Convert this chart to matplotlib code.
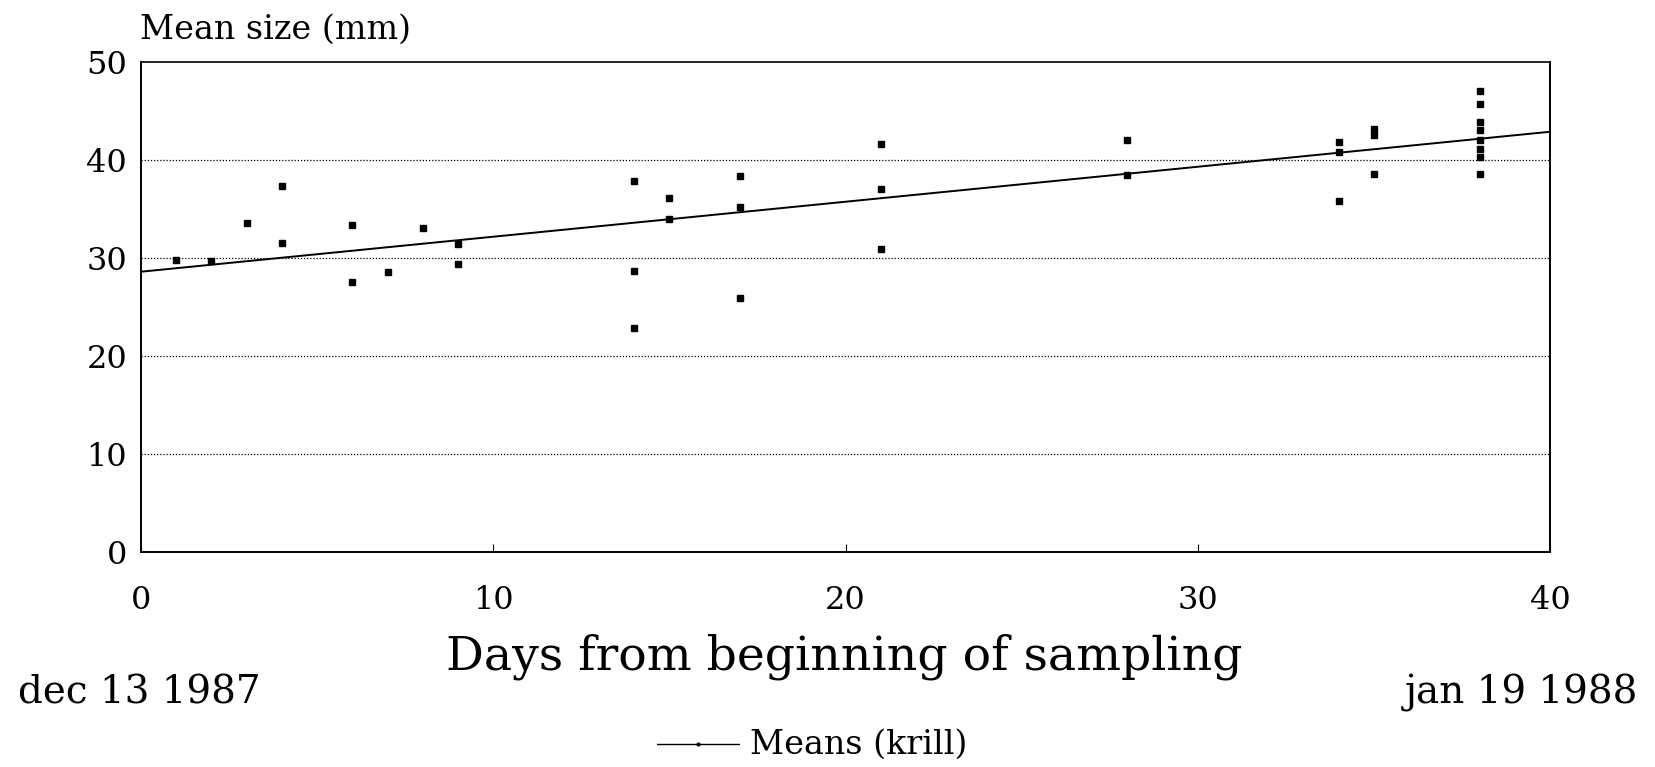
import numpy as np
import matplotlib
matplotlib.use("Agg")
import matplotlib.pyplot as plt

# Krill mean size per sampling day
days = [1, 2, 3, 4, 4, 6, 6, 7, 8, 9, 9,
        14, 14, 14, 15, 15, 17, 17, 17, 21, 21, 21,
        28, 28, 34, 34, 34, 35, 35, 35,
        38, 38, 38, 38, 38, 38, 38, 38]
mean_size = [29.8, 29.7, 33.6, 37.3, 31.5, 33.4, 27.6, 28.6, 33.1, 31.4, 29.4,
             37.9, 28.7, 22.9, 36.1, 34.0, 38.4, 35.2, 25.9, 41.6, 37.0, 30.9,
             42.0, 38.5, 41.8, 40.8, 35.8, 43.2, 42.5, 38.6,
             47.0, 45.7, 43.9, 43.1, 42.0, 41.1, 40.3, 38.6]

# fitted trend line as drawn in the figure
fit_intercept = 28.6
fit_slope = 0.357

x_ticks = [0, 10, 20, 30, 40]
y_ticks = [0, 10, 20, 30, 40, 50]

plt.rcParams["font.family"] = ["DejaVu Serif"]

fig = plt.figure(figsize=(16.55, 7.67), dpi=100)
ax = fig.add_axes([0.0852, 0.2803, 0.8514, 0.6389])

for v in y_ticks[1:-1]:
    ax.axhline(v, color="black", lw=0.9, ls=(0, (1, 1.5)), zorder=1)

ax.plot(days, mean_size, ls="none", marker="s", ms=3.8, color="black", zorder=3)

xfit = np.array([0, 40])
ax.plot(xfit, fit_intercept + fit_slope * xfit, color="black", lw=1.4, zorder=2)

ax.set_xlim(0, 40)
ax.set_ylim(0, 50)
ax.set_xticks(x_ticks)
ax.set_yticks(y_ticks)
ax.tick_params(axis="x", direction="in", length=6, width=0.8, labelsize=23, pad=24)
ax.tick_params(axis="y", length=0, labelsize=23, pad=10)
for s in ["left", "bottom", "right"]:
    ax.spines[s].set_linewidth(1.4)
ax.spines["top"].set_linestyle((0, (2, 1)))
ax.spines["top"].set_linewidth(1.2)

fig.text(0.0846, 0.961, "Mean size (mm)", fontsize=24, ha="left", va="center")
fig.text(0.51, 0.144, "Days from beginning of sampling", fontsize=34, ha="center", va="center")
fig.text(0.011, 0.096, "dec 13 1987", fontsize=28, ha="left", va="center")
fig.text(0.990, 0.096, "jan 19 1988", fontsize=28, ha="right", va="center")

# legend-like key at the bottom
key = fig.add_axes([0.397, 0.01, 0.05, 0.04])
key.plot([0, 0.5, 1], [0, 0, 0], color="black", lw=1, marker="o", ms=2, markevery=[1])
key.set_xlim(0, 1)
key.set_ylim(-1, 1)
key.axis("off")
fig.text(0.453, 0.029, "Means (krill)", fontsize=24, ha="left", va="center")

fig.savefig("out.png", dpi=100)
